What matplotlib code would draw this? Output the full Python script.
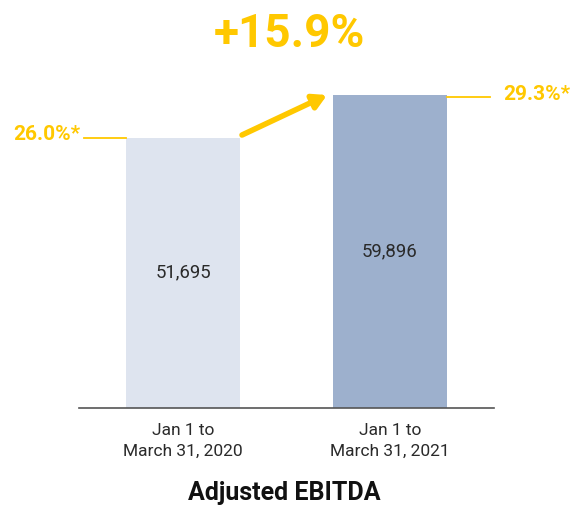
import matplotlib
matplotlib.use("Agg")
import matplotlib.pyplot as plt

periods = ["Jan 1 to\nMarch 31, 2020", "Jan 1 to\nMarch 31, 2021"]
ebitda = [51695, 59896]
value_labels = ["51,695", "59,896"]
margins = ["26.0%*", "29.3%*"]
growth = "+15.9%"
title = "Adjusted EBITDA"

gold = "#FFC800"
bar_colors = ["#DEE4EF", "#9DB0CD"]
plt.rcParams["font.family"] = ["Roboto", "DejaVu Sans"]

fig = plt.figure(figsize=(5.71, 5.13), dpi=100)
ax = fig.add_axes([79.5 / 571, 105 / 513, 414 / 571, 366 / 513])

x = list(range(len(ebitda)))
ax.bar(x, ebitda, width=0.55, color=bar_colors, zorder=2)
ax.set_xlim(-0.5, 1.5)
ax.set_ylim(0, 70000)

for xi, v, lab in zip(x, ebitda, value_labels):
    ax.text(xi, v / 2, lab, ha="center", va="center", fontsize=13.4, color="#2a2a2a")

# margin labels with leader lines
ax.plot([-0.478, -0.275], [ebitda[0], ebitda[0]], color=gold, lw=1.3, clip_on=False)
ax.text(-0.498, ebitda[0] + 600, margins[0], ha="right", va="center",
        fontsize=15, fontweight="bold", color=gold, clip_on=False)
ax.plot([1.275, 1.483], [ebitda[1] - 350, ebitda[1] - 350], color=gold, lw=1.3, clip_on=False)
ax.text(1.546, ebitda[1], margins[1], ha="left", va="center",
        fontsize=15, fontweight="bold", color=gold, clip_on=False)

# growth arrow
ax.annotate("", xy=(0.696, 59860), xytext=(0.285, 52210),
            arrowprops=dict(arrowstyle="-|>,head_length=0.8,head_width=0.45",
                            color=gold, lw=4, shrinkA=0, shrinkB=0),
            annotation_clip=False)

fig.text(289 / 571, 1 - 34 / 513, growth, ha="center", va="center",
         fontsize=33, fontweight="bold", color=gold)

ax.set_xticks(x)
ax.set_xticklabels(periods, fontsize=12.5, color="#2a2a2a", linespacing=1.5)
ax.tick_params(axis="x", length=0, pad=11)
ax.set_yticks([])
for s in ["top", "right", "left"]:
    ax.spines[s].set_visible(False)
ax.spines["bottom"].set_color("#555555")
ax.spines["bottom"].set_linewidth(1.2)

fig.text(284.5 / 571, 1 - 493 / 513, title, ha="center", va="center",
         fontsize=18, fontweight="bold", color="#111111")

fig.savefig("out.png", dpi=100)
